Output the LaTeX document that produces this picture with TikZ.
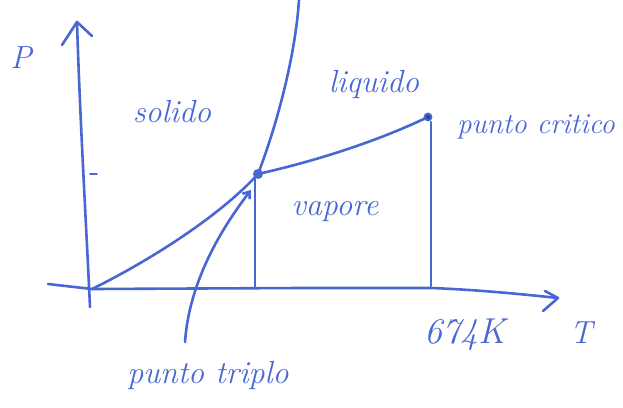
\documentclass[tikz,border=0pt]{standalone}
\usepackage{fontspec}
\usetikzlibrary{arrows.meta}
\definecolor{ink}{RGB}{72,102,212}
\tikzset{
  pen/.style={draw=ink,line width=2.6pt,line cap=round,line join=round},
  hand/.style={text=ink,inner sep=0pt,font=\fontsize{32}{32}\selectfont\itshape},
  handsmall/.style={hand,font=\fontsize{29}{29}\selectfont\itshape},
  handbig/.style={hand,font=\fontsize{36}{36}\selectfont\itshape},
}
\begin{document}
\begin{tikzpicture}[x=1pt,y=-1pt]
\useasboundingbox (0,0) rectangle (623,407);
% key points
\coordinate (O) at (92,289);
\coordinate (trip) at (258,174);
\coordinate (crit) at (428,117);
\coordinate (ytop) at (77,22);
\coordinate (ybot) at (90,307);
\coordinate (xstart) at (48,284);
\coordinate (xend) at (558,298);
% axes
\draw[pen] (ybot) .. controls (86,220) and (80,120) .. (ytop);
\draw[pen] (62,45) -- (ytop) -- (92,36);
\draw[pen] (xstart) -- (O) -- (300,288) -- (432,288) .. controls (480,290) and (520,294) .. (xend);
\draw[pen] (545,291) -- (xend) -- (543,311);
\draw[pen,line width=1.8pt] (90,174) -- (97,174);
% phase boundaries
\draw[pen] (O) .. controls (145,263) and (218,218) .. (trip);
\draw[pen] (trip) .. controls (275,130) and (295,60) .. (299,0);
\draw[pen] (trip) .. controls (320,160) and (380,140) .. (crit);
\draw[pen] (255,178) -- (255,287);
\draw[pen] (431,122) -- (431,286);
% points
\fill[ink] (trip) circle (5);
\draw[ink,line width=1.8pt,fill=ink!70!black] (crit) circle (3.5);
% labels
\node[hand] (P) at (21,58) {P};
\node[hand] (T) at (581,333) {T};
\node[hand] (solido) at (172,112) {solido};
\node[hand] (liquido) at (374,84) {liquido};
\node[hand] (vapore) at (335,212) {vapore};
\node[handsmall,anchor=west] (pc) at (457,127) {punto critico};
\node[hand] (pt) at (208,375) {punto triplo};
\node[handbig] (K) at (465,335) {674K};
% arrow to triple point
\draw[pen,-{Straight Barb[length=6pt,width=9pt]}] (185,342) .. controls (188,300) and (205,250) .. (251,190);
\end{tikzpicture}
\end{document}
